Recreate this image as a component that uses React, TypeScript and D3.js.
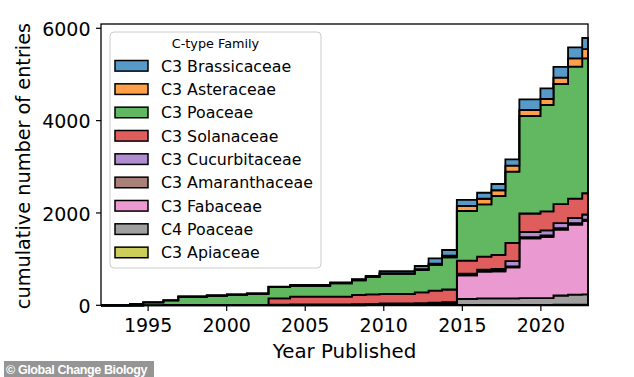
import React from 'react';
import * as d3 from 'd3';

// ---- data (cumulative counts, step intervals starting at stepStarts[i]) ----
const stepStarts = [1992, 1993.85, 1994.69, 1995.97, 1996.92, 1998.73, 2000.01, 2001.28, 2002.66, 2004.04, 2006.59, 2007.97, 2008.85, 2009.73, 2011.97, 2012.85, 2013.71, 2014.65, 2015.94, 2016.85, 2017.74, 2018.63, 2019.97, 2020.80, 2021.73, 2022.63];
const stepEnd = 2023;

const c3Apiaceae = [0, 0, 0, 0, 0, 0, 0, 0, 0, 0, 0, 0, 2, 2, 3, 4, 5, 8, 8, 8, 10, 10, 10, 12, 12, 12];
const c4Poaceae = [0, 0, 5, 10, 10, 10, 10, 10, 12, 12, 14, 15, 15, 18, 20, 22, 25, 130, 140, 140, 140, 145, 145, 200, 218, 225];
const c3Fabaceae = [0, 0, 0, 0, 0, 0, 0, 0, 3, 5, 5, 6, 8, 10, 12, 15, 20, 510, 580, 590, 670, 1295, 1330, 1430, 1520, 1585];
const c3Amaranthaceae = [0, 0, 0, 0, 0, 0, 0, 0, 0, 0, 0, 2, 2, 3, 3, 4, 5, 15, 15, 18, 25, 28, 30, 30, 32, 35];
const c3Cucurbitaceae = [0, 0, 0, 0, 0, 0, 0, 0, 0, 2, 3, 4, 5, 6, 8, 10, 12, 25, 28, 30, 110, 110, 110, 110, 110, 110];
const c3Solanaceae = [0, 0, 0, 0, 0, 0, 0, 0, 137, 167, 167, 196, 206, 206, 234, 265, 275, 280, 285, 305, 395, 400, 410, 410, 420, 460];
const c3Poaceae = [0, 25, 60, 98, 175, 197, 218, 240, 240, 238, 288, 320, 372, 438, 485, 558, 696, 1075, 1132, 1276, 1544, 2112, 2303, 2601, 2856, 2923];
const c3Asteraceae = [0, 0, 0, 0, 5, 5, 5, 5, 5, 8, 8, 10, 10, 12, 18, 25, 35, 110, 120, 125, 130, 130, 130, 138, 180, 200];
const c3Brassicaceae = [0, 0, 0, 0, 5, 5, 5, 5, 5, 8, 10, 12, 15, 45, 68, 115, 125, 130, 130, 135, 135, 230, 232, 235, 238, 240];

// stacking order bottom -> top
const seriesKeys = ['C3 Apiaceae', 'C4 Poaceae', 'C3 Fabaceae', 'C3 Amaranthaceae', 'C3 Cucurbitaceae', 'C3 Solanaceae', 'C3 Poaceae', 'C3 Asteraceae', 'C3 Brassicaceae'];
const seriesValues = [c3Apiaceae, c4Poaceae, c3Fabaceae, c3Amaranthaceae, c3Cucurbitaceae, c3Solanaceae, c3Poaceae, c3Asteraceae, c3Brassicaceae];
const seriesBaseColors = ['#bcbd22', '#7f7f7f', '#e377c2', '#8c564b', '#9467bd', '#d62728', '#2ca02c', '#ff7f0e', '#1f77b4'];

const xTicks = [1995, 2000, 2005, 2010, 2015, 2020];
const yTicks = [0, 2000, 4000, 6000];

const FONT = 'DejaVu Sans, sans-serif';
const W = 634;
const H = 377;

export default function App() {
  const x = d3.scaleLinear().domain([1992, 2023]).range([101, 588]);
  const y = d3.scaleLinear().domain([0, 6093]).range([305.3, 24]);
  const colors = seriesBaseColors.map((c) => d3.interpolateRgb('#ffffff', c)(0.75));

  const n = stepStarts.length;
  const years = [...stepStarts, stepEnd];
  const rows = years.map((yr, i) => {
    const j = Math.min(i, n - 1);
    const row: any = { year: yr };
    seriesKeys.forEach((k, s) => { row[k] = seriesValues[s][j]; });
    return row;
  });
  const stacked = d3.stack<any>().keys(seriesKeys)(rows);
  const area = d3.area<any>()
    .x((d) => x(d.data.year))
    .y0((d) => y(d[0]))
    .y1((d) => y(d[1]))
    .curve(d3.curveStepAfter);

  const legendOrder = seriesKeys.map((_, i) => i).reverse();
  const legX = 110, legY = 32, legW = 211, legH = 236;
  const rowBase = 71.7, rowStep = 23.33;

  return (
    <svg width={W} height={H} style={{ position: 'absolute', left: 0, top: 0, background: '#fff' }} fontFamily={FONT}>
      <rect x={0} y={0} width={W} height={H} fill="#fff" />
      {stacked.map((layer, i) => (
        <path key={seriesKeys[i]} d={area(layer) || ''} fill={colors[i]} stroke="#000" strokeWidth={1.8} strokeLinejoin="miter" />
      ))}
      {/* spines */}
      <rect x={101} y={24} width={487} height={281.3} fill="none" stroke="#000" strokeWidth={1.3} />
      {/* x ticks */}
      {xTicks.map((t) => (
        <g key={t}>
          <line x1={x(t)} x2={x(t)} y1={305.3} y2={311} stroke="#000" strokeWidth={1.2} />
          <text x={x(t)} y={331.7} fontSize={19} textAnchor="middle" fill="#000">{t}</text>
        </g>
      ))}
      {yTicks.map((t) => (
        <g key={t}>
          <line x1={96} x2={101} y1={y(t)} y2={y(t)} stroke="#000" strokeWidth={1.2} />
          <text x={90.5} y={y(t) + 7.8} fontSize={19} textAnchor="end" fill="#000">{t}</text>
        </g>
      ))}
      <text x={344.5} y={357.5} fontSize={19.8} textAnchor="middle" fill="#000">Year Published</text>
      <text transform="translate(30,166) rotate(-90)" fontSize={19.3} textAnchor="middle" fill="#000">cumulative number of entries</text>

      {/* legend */}
      <rect x={legX} y={legY} width={legW} height={legH} rx={4} fill="#fff" fillOpacity={0.8} stroke="#cccccc" strokeWidth={1} />
      <text x={legX + legW / 2} y={48.3} fontSize={12.8} textAnchor="middle" fill="#000">C-type Family</text>
      {legendOrder.map((si, r) => {
        const base = rowBase + r * rowStep;
        return (
          <g key={seriesKeys[si]}>
            <rect x={115} y={base - 11.2} width={33} height={10.6} fill={colors[si]} stroke="#000" strokeWidth={1.5} />
            <text x={161} y={base} fontSize={15.8} fill="#000">{seriesKeys[si]}</text>
          </g>
        );
      })}

      {/* watermark */}
      <rect x={4} y={361} width={150} height={16} fill="#959595" />
      <text x={6} y={373.5} fontSize={12.5} fontWeight="bold" letterSpacing={-0.4} fill="#fff" fontFamily="Liberation Sans, Arial, sans-serif">© Global Change Biology</text>
    </svg>
  );
}
